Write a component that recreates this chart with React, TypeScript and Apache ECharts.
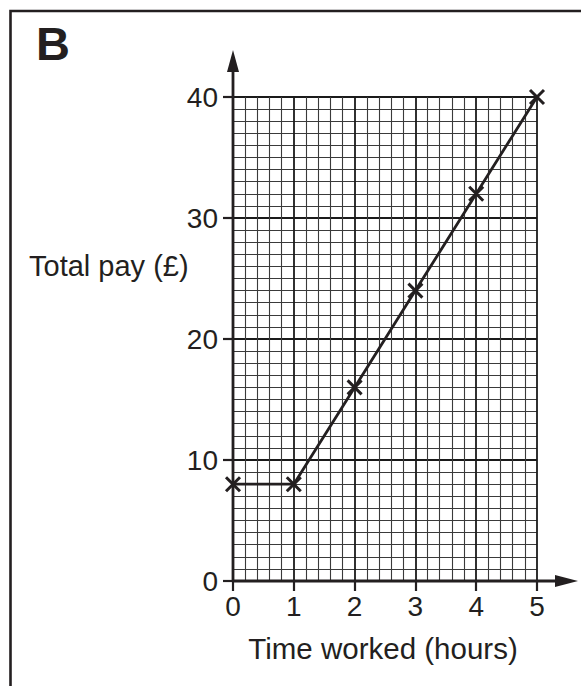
import React, { useEffect, useRef } from "react";
import * as echarts from "echarts";

const hours = [0, 1, 2, 3, 4, 5];
const pay = [8, 8, 16, 24, 32, 40];
const xAxisName = "Time worked (hours)";
const yAxisName = "Total pay (£)";
const panelLabel = "B";

const INK = "#231f20";
const FONT = "'Liberation Sans', Arial, Helvetica, sans-serif";

export default function App() {
  const ref = useRef<HTMLDivElement>(null);
  useEffect(() => {
    if (!ref.current) return;
    const chart = echarts.init(ref.current, null, { renderer: "svg" });
    const option: any = {
      animation: false,
      backgroundColor: "#ffffff",
      grid: { left: 233, right: 44, top: 97, bottom: 105, containLabel: false },
      xAxis: {
        type: "value",
        min: 0,
        max: 5,
        interval: 1,
        axisLine: { show: false },
        axisTick: { show: true, length: 10, lineStyle: { color: INK, width: 2.2 } },
        axisLabel: { margin: 11, fontSize: 28, color: INK, fontFamily: FONT },
        splitLine: { show: true, lineStyle: { color: "#1a1a1a", width: 1.8 } },
        minorTick: { show: false, splitNumber: 5 },
        minorSplitLine: { show: true, lineStyle: { color: "#3a3a3a", width: 1.1 } },
      },
      yAxis: {
        type: "value",
        min: 0,
        max: 40,
        interval: 10,
        axisLine: { show: false },
        axisTick: { show: true, length: 10, lineStyle: { color: INK, width: 2.2 } },
        axisLabel: { margin: 15, fontSize: 28, color: INK, fontFamily: FONT },
        splitLine: { show: true, lineStyle: { color: "#1a1a1a", width: 1.8 } },
        minorTick: { show: false, splitNumber: 10 },
        minorSplitLine: { show: true, lineStyle: { color: "#3a3a3a", width: 1.1 } },
      },
      series: [
        {
          type: "line",
          data: hours.map((h, i) => [h, pay[i]]),
          clip: false,
          symbol: "path://M0,0L10,10M10,0L0,10",
          symbolSize: 14,
          itemStyle: { color: "transparent", borderColor: INK, borderWidth: 3 },
          lineStyle: { color: INK, width: 2.8 },
          z: 5,
        },
      ],
    };
    chart.setOption(option);

    const o = chart.convertToPixel({ gridIndex: 0 }, [0, 0]) as number[];
    const xEnd = chart.convertToPixel({ gridIndex: 0 }, [5, 0]) as number[];
    const yEnd = chart.convertToPixel({ gridIndex: 0 }, [0, 40]) as number[];
    const ox = o[0];
    const oy = o[1];
    const xArrowBase = xEnd[0] + 18;
    const xArrowTip = xArrowBase + 23;
    const yArrowBase = yEnd[1] - 25;
    const yArrowTip = yArrowBase - 22;

    chart.setOption({
      graphic: [
        {
          type: "rect",
          shape: { x: 10.5, y: 11, width: 700, height: 800 },
          style: { fill: "none", stroke: INK, lineWidth: 2.6 },
          silent: true,
        },
        {
          type: "line",
          shape: { x1: ox - 1, y1: oy, x2: xArrowBase + 2, y2: oy },
          style: { stroke: INK, lineWidth: 2.8 },
          z: 10,
        },
        {
          type: "polygon",
          shape: { points: [[xArrowBase, oy - 6], [xArrowTip, oy], [xArrowBase, oy + 6]] },
          style: { fill: INK },
          z: 10,
        },
        {
          type: "line",
          shape: { x1: ox, y1: oy + 1, x2: ox, y2: yArrowBase - 2 },
          style: { stroke: INK, lineWidth: 2.8 },
          z: 10,
        },
        {
          type: "polygon",
          shape: { points: [[ox - 6, yArrowBase], [ox, yArrowTip], [ox + 6, yArrowBase]] },
          style: { fill: INK },
          z: 10,
        },
        {
          type: "text",
          x: 36,
          y: 43,
          style: {
            text: panelLabel,
            font: `bold 47px ${FONT}`,
            fill: INK,
            textAlign: "left",
            textVerticalAlign: "middle",
          },
        },
        {
          type: "text",
          x: 29,
          y: 266,
          style: {
            text: yAxisName,
            font: `29px ${FONT}`,
            fill: INK,
            textAlign: "left",
            textVerticalAlign: "middle",
          },
        },
        {
          type: "text",
          x: 383,
          y: 648,
          style: {
            text: xAxisName,
            font: `29.5px ${FONT}`,
            fill: INK,
            textAlign: "center",
            textVerticalAlign: "middle",
          },
        },
      ],
    });

    return () => chart.dispose();
  }, []);

  return (
    <div
      ref={ref}
      style={{ position: "fixed", left: 0, top: 0, width: 581, height: 686, background: "#fff" }}
    />
  );
}
